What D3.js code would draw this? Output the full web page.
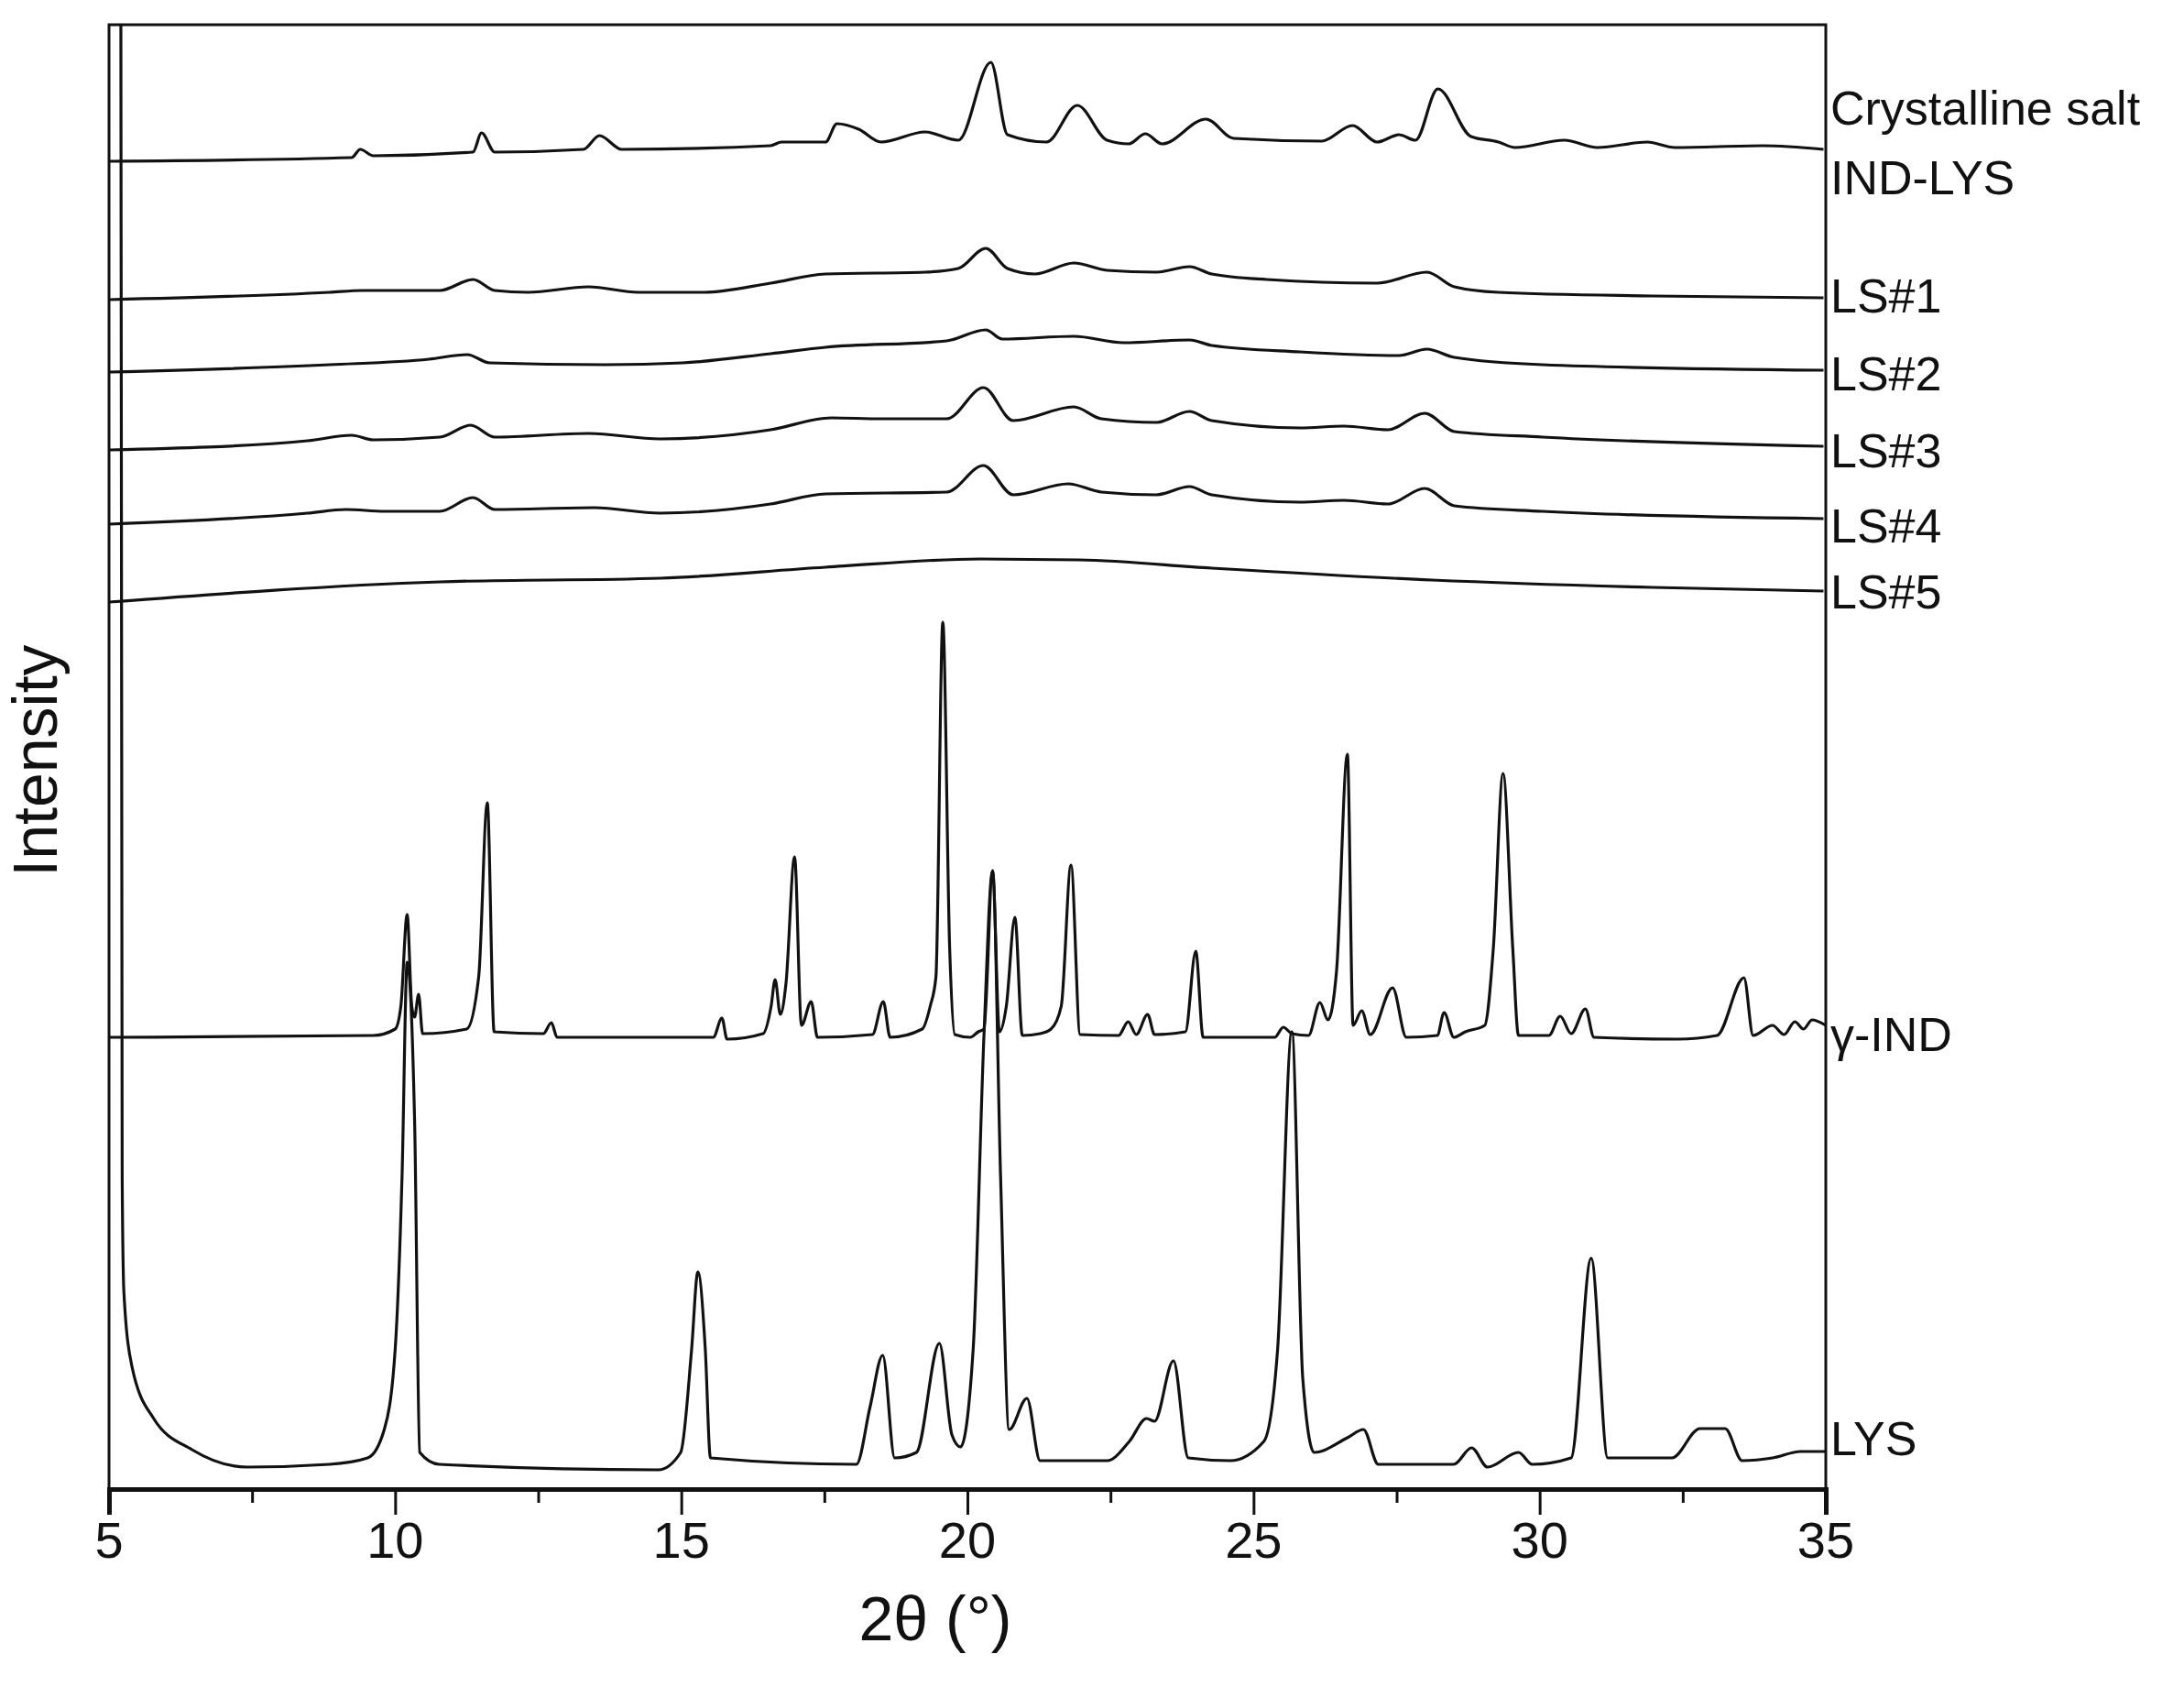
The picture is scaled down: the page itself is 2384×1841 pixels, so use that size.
<!DOCTYPE html>
<html>
<head>
<meta charset="utf-8">
<script src="https://cdn.jsdelivr.net/npm/d3@7"></script>
<style>
body { margin: 0; background: #fff; }
text { font-family: "Liberation Sans", Arial, sans-serif; fill: #111; }
</style>
</head>
<body>
<svg id="chart" width="2384" height="1841"></svg>
<script>
// 2θ (deg), intensity (a.u.)
var crystalline = [[5,1449],[9.24,1453],[9.39,1462],[9.62,1455],[11.36,1459],[11.51,1480],[11.74,1459],[13.29,1462],[13.57,1477],[13.96,1462],
  [16.56,1466],[16.75,1470],[17.52,1470],[17.72,1490],[18.10,1484],[18.49,1470],[19.26,1481],[19.84,1472],[20.41,1557],[20.70,1478],
  [21.38,1470],[21.92,1510],[22.44,1472],[22.82,1468],[23.11,1479],[23.40,1468],[24.17,1495],[24.65,1474],[26.19,1471],[26.73,1488],
  [27.16,1470],[27.54,1478],[27.83,1472],[28.22,1528],[28.80,1476],[29.28,1470],[29.57,1464],[30.43,1472],[31.01,1464],[31.88,1470],
  [32.36,1464],[33.90,1466],[34.96,1462]];
var ls1 = [[5,1298],[8.85,1306],[9.43,1308],[10.78,1308],[11.36,1320],[11.74,1308],[12.32,1306],[13.38,1312],[14.25,1306],[15.40,1306],
  [16.56,1316],[17.52,1326],[19.26,1328],[19.84,1332],[20.32,1354],[20.70,1332],[21.18,1326],[21.86,1338],[22.44,1330],[23.30,1328],
  [23.88,1334],[24.27,1326],[25.23,1320],[27.16,1316],[28.03,1328],[28.51,1312],[29.28,1306],[31.97,1302],[34.96,1300]];
var ls2 = [[5,1219],[8.85,1227],[10.59,1233],[11.26,1238],[11.65,1229],[13.67,1227],[15.02,1229],[16.56,1239],[17.52,1246],[19.64,1253],
  [20.32,1265],[20.61,1255],[21.86,1258],[22.73,1251],[23.88,1254],[24.27,1248],[25.81,1241],[27.54,1237],[28.03,1244],[28.51,1235],
  [30.05,1227],[34.96,1221]];
var ls3 = [[5,1134],[8.47,1144],[9.24,1150],[9.62,1145],[10.78,1148],[11.32,1161],[11.74,1148],[13.38,1152],[14.63,1146],[16.56,1156],
  [17.62,1169],[18.49,1168],[19.64,1168],[20.28,1202],[20.80,1166],[21.86,1181],[22.34,1168],[23.30,1164],[23.88,1176],[24.27,1166],
  [25.81,1158],[26.58,1160],[27.35,1156],[27.99,1174],[28.51,1154],[30.05,1148],[34.96,1138]];
var ls4 = [[5,1053],[8.47,1065],[9.14,1069],[9.82,1067],[10.78,1067],[11.36,1082],[11.74,1069],[13.48,1071],[14.63,1065],[16.56,1075],
  [17.52,1086],[19.64,1088],[20.28,1117],[20.80,1085],[21.76,1097],[22.34,1088],[23.30,1085],[23.88,1094],[24.27,1085],[25.81,1077],
  [26.58,1079],[27.35,1075],[27.99,1092],[28.51,1073],[30.05,1067],[34.96,1059]];
var ls5 = [[5,968],[10.78,990],[14.63,994],[17.52,1006],[20.22,1015],[21.96,1014],[24.27,1005],[28.12,992],[31.97,984],[34.96,980]];
var gammaInd = [[5,493],[9.62,495],[10.0,502],[10.1,527],[10.21,627],[10.29,527],[10.34,515],[10.41,540],[10.48,497],[11.25,502],
  [11.46,559],[11.61,749],[11.73,499],[12.59,497],[12.73,509],[12.83,493],[15.56,493],[15.71,514],[15.8,491],[16.43,497],[16.57,527],
  [16.64,556],[16.73,518],[16.83,552],[16.98,690],[17.1,506],[17.27,532],[17.38,493],[18.34,496],[18.53,532],[18.65,493],[19.21,502],
  [19.35,527],[19.45,559],[19.57,946],[19.69,590],[19.78,496],[20.05,493],[20.19,499],[20.29,502],[20.44,674],[20.56,499],[20.68,527],
  [20.83,624],[20.96,495],[21.27,497],[21.46,502],[21.64,527],[21.81,681],[21.97,496],[22.64,495],[22.81,510],[22.95,496],[23.15,518],
  [23.27,496],[23.81,499],[23.99,587],[24.12,493],[25.37,493],[25.52,504],[25.67,497],[25.96,495],[26.16,531],[26.30,512],[26.45,565],
  [26.64,802],[26.74,506],[26.89,522],[27.04,496],[27.43,547],[27.67,493],[28.21,495],[28.33,520],[28.50,493],[28.70,499],[29.04,506],
  [29.19,590],[29.36,781],[29.53,590],[29.63,495],[30.16,495],[30.36,516],[30.55,497],[30.80,524],[30.95,493],[32.41,491],[33.10,495],
  [33.57,558],[33.73,495],[34.07,506],[34.27,496],[34.46,510],[34.61,502],[34.76,512],[35.0,506]];
var lys = [[5.2,2000],[5.23,340],[5.26,215],[5.40,134],[5.78,77],[6.45,43],[7.41,24],[8.85,27],[9.52,34],[9.81,65],[10.0,152],[10.12,340],
  [10.21,575],[10.34,402],[10.43,40],[10.77,27],[14.6,21],[14.99,40],[15.18,152],[15.29,237],[15.42,152],[15.51,34],[18.06,27],
  [18.3,90],[18.52,146],[18.73,34],[19.11,40],[19.51,159],[19.73,59],[19.88,46],[20.1,152],[20.29,496],[20.44,675],[20.58,340],
  [20.73,65],[21.04,99],[21.27,31],[22.44,31],[22.83,52],[23.13,77],[23.27,74],[23.6,140],[23.86,34],[24.59,31],[25.18,52],[25.42,152],
  [25.67,499],[25.86,121],[26.06,40],[26.64,56],[26.92,65],[27.18,27],[28.5,27],[28.81,45],[29.09,24],[29.63,40],[29.87,27],[30.55,34],
  [30.9,252],[31.19,34],[32.31,34],[32.8,66],[33.24,66],[33.54,31],[34.07,34],[34.56,41],[35.0,41]];

var seriesList = [crystalline, ls1, ls2, ls3, ls4, ls5, gammaInd, lys];
var labelNames = ["Crystalline salt", "IND-LYS", "LS#1", "LS#2", "LS#3", "LS#4", "LS#5", "\u03b3-IND", "LYS"];
var labelLevels = [1508, 1432, 1303, 1218, 1134, 1052, 980, 497, 56];
var xTicks = [5, 10, 15, 20, 25, 30, 35];

var plotL = 119, plotR = 1993, plotT = 27, plotB = 1625;
var svg = d3.select("#chart");

var x = d3.scaleLinear().domain([5, 35]).range([plotL, plotR]);
var y = d3.scaleLinear().domain([0, plotB - plotT]).range([plotB, plotT]);

svg.append("clipPath").attr("id", "clip")
  .append("rect").attr("x", plotL).attr("y", plotT).attr("width", plotR - plotL).attr("height", plotB - plotT);

var line = d3.line()
  .x(function(d){ return x(d[0]); })
  .y(function(d){ return y(d[1]); })
  .curve(d3.curveMonotoneX);

svg.append("g").attr("clip-path", "url(#clip)")
  .selectAll("path")
  .data(seriesList)
  .enter()
  .append("path")
  .attr("d", line)
  .attr("fill", "none")
  .attr("stroke", "#111")
  .attr("stroke-width", 3.2)
  .attr("stroke-linejoin", "round");

// frame
svg.append("rect")
  .attr("x", plotL).attr("y", plotT).attr("width", plotR - plotL).attr("height", plotB - plotT)
  .attr("fill", "none").attr("stroke", "#111").attr("stroke-width", 3);

// x axis
var xAxis = d3.axisBottom(x).tickValues(d3.range(5, 35.1, 2.5)).tickSize(28).tickFormat("");
var ax = svg.append("g").attr("transform", "translate(0," + plotB + ")").call(xAxis);
ax.select(".domain").attr("stroke", "#111").attr("stroke-width", 5);
ax.selectAll(".tick line").attr("stroke", "#111").attr("stroke-width", 3)
  .attr("y2", function(d){ return d % 5 === 0 ? 28 : 15; });

svg.selectAll(".xlab")
  .data(xTicks)
  .enter()
  .append("text")
  .attr("x", function(d){ return x(d); })
  .attr("y", 1700)
  .attr("text-anchor", "middle")
  .attr("font-size", 56)
  .text(function(d){ return d; });

svg.append("text")
  .attr("x", (plotL + plotR) / 2 - 35).attr("y", 1790)
  .attr("text-anchor", "middle").attr("font-size", 68)
  .text("2\u03b8 (\u00b0)");

svg.append("text")
  .attr("transform", "translate(62,830) rotate(-90)")
  .attr("text-anchor", "middle").attr("font-size", 68)
  .text("Intensity");

svg.selectAll(".slab")
  .data(labelNames)
  .enter()
  .append("text")
  .attr("x", 1998)
  .attr("y", function(d, i){ return y(labelLevels[i]); })
  .attr("dy", "0.36em")
  .attr("font-size", 52)
  .text(function(d){ return d; });
</script>
</body>
</html>
